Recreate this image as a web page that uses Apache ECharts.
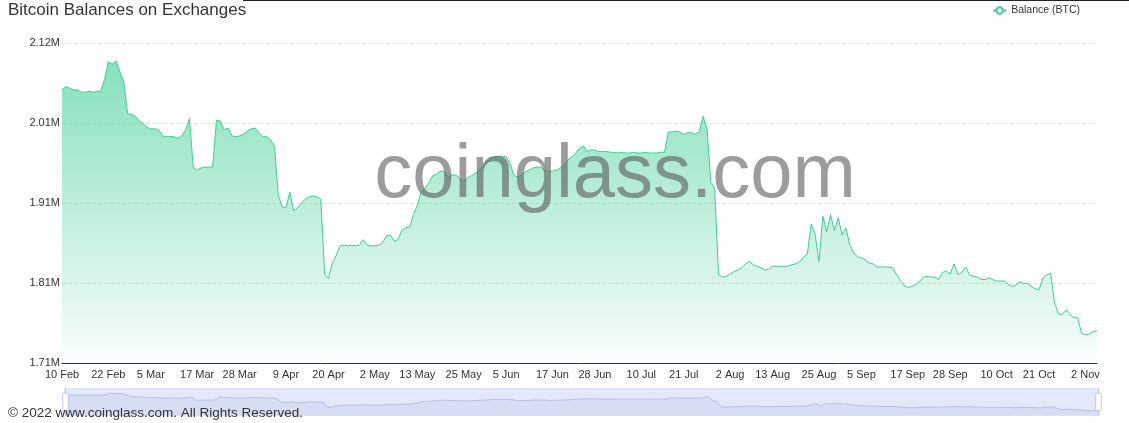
<!DOCTYPE html>
<html>
<head>
<meta charset="utf-8">
<title>Bitcoin Balances on Exchanges</title>
<script src="https://cdn.jsdelivr.net/npm/echarts@6/dist/echarts.min.js"></script>
<style>
	html, body { margin: 0; padding: 0; background: #fff; }
	#chart { width: 1129px; height: 423px; }
</style>
</head>
<body>
<div id="chart"></div>
<script>
// daily balance, thousand BTC (10 Feb 2022 onwards)
var balances = [
	2056, 2060, 2058, 2056, 2056, 2053, 2053, 2054, 2053, 2054, 2054,
	2069, 2092, 2089, 2093, 2079, 2066,
	2025, 2025, 2022, 2016, 2013, 2008, 2006, 2006, 2005, 1997, 1996, 1996, 1996, 1994, 1997, 2005, 2019,
	1956, 1953, 1956, 1957, 1957, 1957,
	2017, 2016, 2005, 2007, 1997, 1996, 1997, 1999, 2003, 2006, 2007, 2001, 1996, 1996, 1992, 1984,
	1921, 1906, 1905, 1925, 1901, 1905, 1911, 1916, 1919, 1920, 1919, 1916,
	1820, 1814, 1834, 1844, 1856, 1857, 1856, 1857, 1856, 1857, 1864, 1857, 1856, 1856, 1857, 1860, 1869, 1870, 1862, 1864, 1876, 1879, 1880,
	1896, 1908, 1925, 1930, 1937, 1946, 1948, 1952, 1951, 1944, 1947, 1947, 1942, 1939, 1943, 1946, 1949, 1953, 1958, 1964, 1969, 1970, 1971, 1971, 1970,
	1962, 1947, 1944, 1947, 1951, 1953, 1956, 1957, 1957, 1953, 1951, 1952, 1953, 1956, 1960, 1966, 1970, 1975, 1981, 1984,
	1977, 1979, 1979, 1977, 1977, 1977, 1976, 1976, 1975, 1976, 1975, 1975, 1976, 1975, 1975, 1976, 1975, 1975, 1975, 1976, 1976,
	2002, 2002, 2003, 2002, 1999, 2001, 2001, 1999, 2002, 2022, 2007, 1938, 1930,
	1819, 1816, 1817, 1820, 1823, 1825, 1828, 1833, 1836, 1832, 1830, 1828, 1825, 1826, 1830, 1830, 1830, 1830, 1830, 1832, 1833, 1836, 1841, 1846,
	1884, 1871, 1836, 1894, 1874, 1896, 1876, 1892, 1870, 1879,
	1857, 1847, 1842, 1841, 1838, 1834, 1833, 1829, 1829, 1829, 1829, 1828,
	1820, 1812, 1806, 1803, 1804, 1806, 1810, 1816, 1817, 1816, 1816, 1813,
	1822, 1824, 1820, 1833, 1819, 1822, 1829, 1819, 1817, 1816, 1813, 1813, 1815, 1813, 1811, 1811, 1811, 1807, 1804, 1806, 1810, 1808, 1808, 1804, 1801, 1800,
	1815, 1819, 1821, 1783, 1769, 1768, 1774, 1768, 1764, 1764, 1744, 1742, 1743, 1746, 1747
];

// labels shown under the x axis
var xTickLabels = ['10 Feb', '22 Feb', '5 Mar', '17 Mar', '28 Mar', '9 Apr', '20 Apr', '2 May',
	'13 May', '25 May', '5 Jun', '17 Jun', '28 Jun', '10 Jul', '21 Jul', '2 Aug', '13 Aug',
	'25 Aug', '5 Sep', '17 Sep', '28 Sep', '10 Oct', '21 Oct', '2 Nov'];

// y ticks (thousand BTC) -> 1.71M, 1.81M, 1.91M, 2.01M, 2.12M
var yTicks = [1706, 1808.5, 1911, 2013.5, 2116];

var monthNames = ['Jan', 'Feb', 'Mar', 'Apr', 'May', 'Jun', 'Jul', 'Aug', 'Sep', 'Oct', 'Nov', 'Dec'];
var dates = [];
for (var i = 0; i < balances.length; i++) {
	var d = new Date(Date.UTC(2022, 1, 10 + i));
	dates.push(d.getUTCDate() + ' ' + monthNames[d.getUTCMonth()]);
}

var font = "'Liberation Sans', Arial, sans-serif";

var option = {
	animation: false,
	textStyle: { fontFamily: font },
	title: {
		text: 'Bitcoin Balances on Exchanges',
		left: 8,
		top: 2,
		padding: 0,
		textStyle: { fontSize: 17, fontWeight: 'normal', color: '#333' }
	},
	legend: {
		right: 44,
		top: 0,
		itemWidth: 13,
		itemHeight: 8,
		itemGap: 5,
		textStyle: { fontSize: 10.5, color: '#333' },
		data: ['Balance (BTC)']
	},
	grid: { left: 62, right: 32, top: 43, bottom: 60 },
	xAxis: {
		type: 'category',
		data: dates,
		boundaryGap: false,
		axisLine: { lineStyle: { color: '#333', width: 1 } },
		axisTick: { show: false },
		axisLabel: {
			fontSize: 11,
			color: '#333',
			margin: 6,
			interval: function(idx, val) {
				return xTickLabels.indexOf(val) >= 0;
			}
		},
		splitLine: { show: false }
	},
	yAxis: {
		type: 'value',
		min: yTicks[0],
		max: yTicks[yTicks.length - 1],
		axisLine: { show: false },
		axisTick: { show: false, customValues: yTicks },
		axisLabel: {
			fontSize: 11,
			color: '#333',
			margin: 2,
			customValues: yTicks,
			formatter: function(v) {
				return (v / 1000).toFixed(2) + 'M';
			}
		},
		splitLine: { lineStyle: { color: '#e3e3e3', type: 'dashed' } }
	},
	dataZoom: [{
		type: 'slider',
		left: 62,
		right: 32,
		top: 388,
		height: 28,
		start: 0,
		end: 100,
		showDetail: false,
		brushSelect: false,
		fillerColor: 'rgba(167,183,234,0.3)',
		borderColor: '#dde3f2'
	}],
	graphic: [{
		type: 'line',
		shape: { x1: 243, y1: 0.5, x2: 1129, y2: 0.5 },
		style: { stroke: '#222', lineWidth: 1 }
	}, {
		type: 'text',
		z: 100,
		x: 615,
		y: 176,
		style: {
			text: 'coinglass.com',
			fill: 'rgba(90,90,90,0.6)',
			font: "76px 'Liberation Sans', Arial, sans-serif",
			textAlign: 'center',
			textVerticalAlign: 'middle'
		}
	}, {
		type: 'text',
		z: 100,
		x: 8,
		y: 413,
		style: {
			text: '\u00a9 2022 www.coinglass.com. All Rights Reserved.',
			fill: '#333',
			font: "13.5px 'Liberation Sans', Arial, sans-serif",
			textAlign: 'left',
			textVerticalAlign: 'middle'
		}
	}],
	series: [{
		name: 'Balance (BTC)',
		type: 'line',
		data: balances,
		symbol: 'emptyCircle',
		showSymbol: false,
		lineStyle: { width: 1, color: '#3fcc93' },
		itemStyle: { color: '#3fcc93' },
		areaStyle: {
			color: new echarts.graphic.LinearGradient(0, 0, 0, 1, [
				{ offset: 0, color: 'rgba(63,206,148,0.9)' },
				{ offset: 1, color: 'rgba(63,206,148,0.04)' }
			])
		}
	}]
};

var myChart = echarts.init(document.getElementById('chart'));
myChart.setOption(option);
</script>
</body>
</html>
